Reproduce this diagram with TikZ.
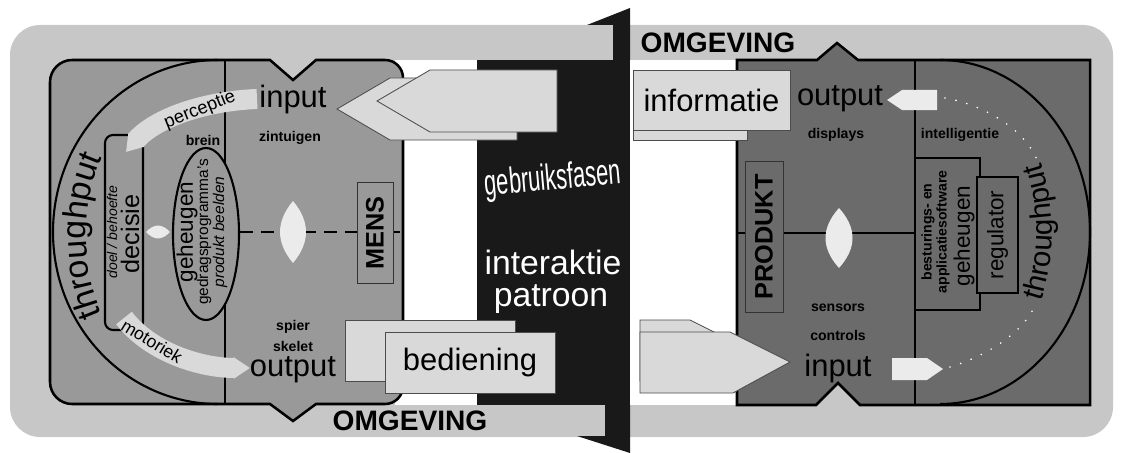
\documentclass[tikz,border=0pt]{standalone}
\usepackage{fontspec}
\setmainfont{Liberation Sans}
\usetikzlibrary{arrows.meta,decorations.text}

\definecolor{envgray}{gray}{0.78}
\definecolor{mensgray}{gray}{0.60}
\definecolor{prodgray}{gray}{0.42}
\definecolor{panelblack}{gray}{0.10}
\definecolor{arrowgray}{gray}{0.85}
\definecolor{lensgray}{gray}{0.92}

\begin{document}
\begin{tikzpicture}[
    x=0.025cm, y=-0.025cm,
    blockline/.style={draw=black, line width=1.8pt},
    innerline/.style={draw=black, line width=1.5pt},
    arrowlayer/.style={fill=arrowgray, draw=black!70, line width=0.6pt},
    flowband/.style={draw=arrowgray, line width=0.5cm, -{Triangle[length=0pt 0.8, width=0pt 1]}},
    lensfill/.style={fill=lensgray},
    bigtxt/.style={font=\fontsize{22}{24}\selectfont},
    midtxt/.style={font=\fontsize{16}{18}\selectfont},
    lbltxt/.style={font=\fontsize{10}{12}\selectfont\bfseries},
    headtxt/.style={font=\fontsize{20}{22}\selectfont\bfseries},
    paneltxt/.style={text=white, font=\fontsize{24}{26}\selectfont},
    vbox/.style={draw=black!80, line width=0.7pt, inner sep=0pt, rotate=90}
]
\useasboundingbox (0,0) rectangle (1123,453);

% --- omgeving (background + windows) ---
\fill[envgray, rounded corners=0.75cm] (10,25) rectangle (1113,437);
\fill[white] (395,60) rectangle (485,405);
\fill[white] (625,60) rectangle (745,405);

% --- MENS block ---
\filldraw[fill=mensgray, blockline] (270,60) -- (293,80) -- (316,60) -- (385,60)
    .. controls (395,60) and (403,68) .. (403,78) -- (403,386)
    .. controls (403,396) and (395,404) .. (385,404) -- (316,404) -- (293,421) -- (270,404) -- (72,404)
    .. controls (60,404) and (50,394) .. (50,382) -- (50,82)
    .. controls (50,70) and (60,60) .. (72,60) -- cycle;

\draw[innerline] (218,60) .. controls (126.9,60) and (53,137) .. (53,232)
    .. controls (53,327) and (126.9,404) .. (218,404);
\draw[innerline] (225,60) -- (225,404);
\draw[innerline, rounded corners=0.2cm] (105,135) rectangle (143,330);
\filldraw[fill=mensgray, innerline] (206,234) ellipse [x radius=33, y radius=86];

% perceptie / motoriek
\draw[flowband] (257,99) .. controls (205,101) and (155,118) .. (126,152);
\draw[flowband] (124,318) .. controls (150,352) and (200,368) .. (250,368);

\draw[line width=1.4pt, dash pattern=on 9pt off 6pt] (240,232) -- (403,232);
\fill[lensfill] (293,201) .. controls (310.3,221.7) and (310.3,242.3) .. (293,263)
    .. controls (275.7,242.3) and (275.7,221.7) .. (293,201);
\fill[lensfill] (146,232) .. controls (154,223.4) and (162,223.4) .. (170,232)
    .. controls (162,240.6) and (154,240.6) .. (146,232);

\path[decorate, decoration={text along path, text align=center,
    text={|\fontsize{24}{26}\selectfont|throughput}}]
    (107.3,326) .. controls (78.9,271.3) and (78.9,200.7) .. (107.3,146);

\node[bigtxt] (mensIn) at (293,100) {input};
\node[lbltxt] (zintuigen) at (290,138) {zintuigen};
\node[lbltxt] (brein) at (203,140) {brein};
\node[font=\fontsize{13}{14}\selectfont, rotate=22] (percLbl) at (200,110) {perceptie};
\node[font=\fontsize{12.5}{14}\selectfont, rotate=-31] (motLbl) at (152,341) {motoriek};
\node[font=\fontsize{10}{12}\selectfont\itshape, rotate=90] (doelLbl) at (112,232) {doel / behoefte};
\node[font=\fontsize{18}{20}\selectfont, rotate=90] (decisieLbl) at (130,234) {decisie};
\node[midtxt, rotate=90] (gehMens) at (187,232) {geheugen};
\node[font=\fontsize{11}{12}\selectfont, rotate=90] (gedragLbl) at (204,232) {gedragsprogramma's};
\node[font=\fontsize{11}{12}\selectfont\itshape, rotate=90] (beeldLbl) at (220,232) {produkt beelden};
\node[vbox, fill=mensgray, minimum width=2.525cm, minimum height=0.9cm,
    font=\fontsize{18}{20}\selectfont\bfseries] (mensLbl) at (375,233) {MENS};
\node[lbltxt] (spier) at (293,327) {spier};
\node[lbltxt] (skelet) at (293,346) {skelet};
\node[bigtxt] (mensOut) at (293,370) {output};

% --- PRODUKT block ---
\filldraw[fill=prodgray, blockline] (737,60) -- (817,60) -- (837,43) -- (858,60) -- (1090,60)
    -- (1090,405) -- (860,405) -- (838,383) -- (816,405) -- (737,405) -- cycle;
\draw[innerline] (940,60) .. controls (1022.8,60) and (1090,137) .. (1090,232)
    .. controls (1090,327) and (1022.8,404) .. (940,404);
\draw[innerline] (915,60) -- (915,405);
\draw[innerline] (737,233) -- (915,233);
\fill[lensfill] (839,208) .. controls (857,228) and (857,248) .. (839,268)
    .. controls (821,248) and (821,228) .. (839,208);
\fill[lensfill] (887,100) -- (902,90) -- (937,90) -- (937,110) -- (902,110) -- cycle;
\fill[lensfill] (892,358) -- (927,358) -- (943,369) -- (927,380) -- (892,380) -- cycle;
\draw[white, line width=1.3pt, line cap=round, dash pattern=on 0pt off 8pt]
    (950,367) .. controls (990,355) and (1025,330) .. (1035,305);
\draw[white, line width=1.3pt, line cap=round, dash pattern=on 0pt off 8pt]
    (945,98) .. controls (985,105) and (1025,130) .. (1037,160);
\filldraw[fill=prodgray, innerline] (915,158) rectangle (980,310);

\path[decorate, decoration={text along path, text align=center,
    text={|\fontsize{21}{23}\selectfont|throughput}}]
    (1035.9,316.5) .. controls (1057.4,262.9) and (1057.4,201.1) .. (1035.9,147.5);

\node[bigtxt] (prodOut) at (840,99) {output};
\node[lbltxt] (displays) at (836,135) {displays};
\node[lbltxt] (intell) at (960,135) {intelligentie};
\node[vbox, fill=prodgray, minimum width=3.775cm, minimum height=0.95cm,
    font=\fontsize{18}{20}\selectfont\bfseries] (prodLbl) at (764,237) {PRODUKT};
\node[lbltxt] (sensors) at (838,308) {sensors};
\node[lbltxt] (controls) at (838,335) {controls};
\node[bigtxt] (prodIn) at (838,368) {input};
\node[lbltxt, rotate=90] (bestLbl) at (928,232) {besturings- en};
\node[lbltxt, rotate=90] (applLbl) at (943,232) {applicatiesoftware};
\node[midtxt, rotate=90] (gehProd) at (964,236) {geheugen};
\node[vbox, fill=prodgray, draw=black, line width=1.5pt, minimum width=2.9cm,
    minimum height=1.025cm, midtxt] (regLbl) at (997.5,235) {regulator};

% --- interaktie panel ---
\fill[panelblack] (477,60) rectangle (630,405);
\fill[panelblack] (587,25) -- (630,8) -- (630,60) -- (613,60) -- (613,25) -- cycle;
\fill[panelblack] (605,405) -- (630,405) -- (630,453) -- (577,436) -- (605,436) -- cycle;

% informatie (product -> mens)
\filldraw[arrowlayer] (337,109) -- (390,78) -- (517,78) -- (517,140) -- (390,140) -- cycle;
\filldraw[arrowlayer] (377,101) -- (430,70) -- (557,70) -- (557,132) -- (430,132) -- cycle;
\filldraw[arrowlayer] (633,78) rectangle (747,140);
\node[arrowlayer, minimum width=3.925cm, minimum height=1.5cm, bigtxt] (infoLbl) at (711.5,100) {informatie};

% bediening (mens -> product)
\filldraw[arrowlayer] (345,320) rectangle (515,381);
\node[arrowlayer, minimum width=4.25cm, minimum height=1.525cm, bigtxt] (bedLbl) at (470,362.5) {bediening};
\filldraw[arrowlayer] (640,320) -- (690,320) -- (750,350) -- (693,381) -- (640,381) -- cycle;
\filldraw[arrowlayer] (640,332) -- (730,332) -- (790,362) -- (733,393) -- (640,393) -- cycle;

\node[text=white, font=\fontsize{26}{28}\selectfont, rotate=5, xscale=0.6] (gebruikLbl) at (553,180) {gebruiksfasen};
\node[paneltxt] (interLbl) at (553,262) {interaktie};
\node[paneltxt] (patroonLbl) at (551,299) {patroon};

\node[headtxt] (omgTop) at (718,43) {OMGEVING};
\node[headtxt] (omgBot) at (410,421) {OMGEVING};

\end{tikzpicture}
\end{document}
